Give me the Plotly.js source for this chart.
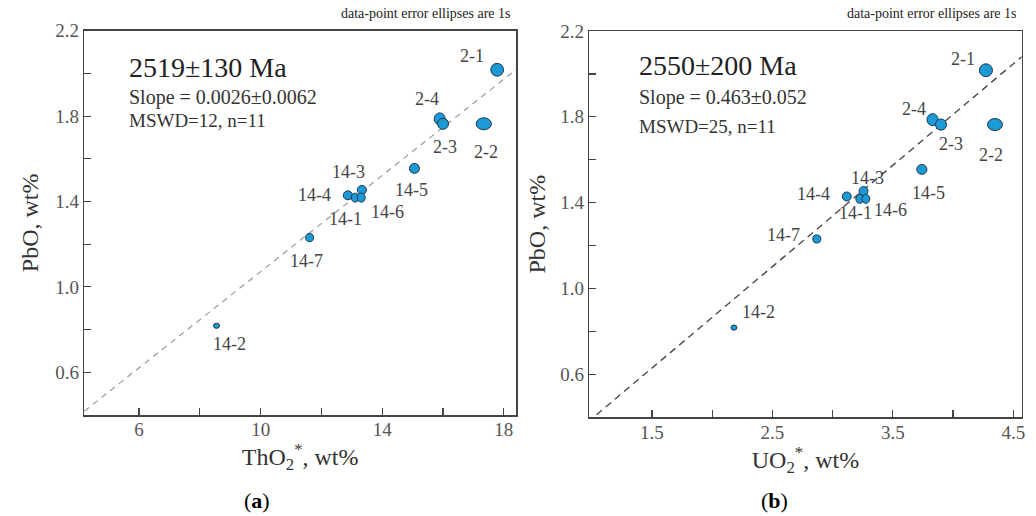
<!DOCTYPE html>
<html>
<head>
<meta charset="utf-8">
<script src="https://cdn.plot.ly/plotly-3.0.1.min.js"></script>
<style>html,body{margin:0;padding:0;background:#fff;}#chart{width:1036px;height:516px;}</style>
</head>
<body>
<div id="chart"></div>
<script>
// ---- data ----
const spotLabels = ['2-1','2-4','2-3','2-2','14-5','14-4','14-3','14-1','14-6','14-7','14-2'];
const pbo     = [2.017, 1.787, 1.764, 1.764, 1.555, 1.429, 1.454, 1.418, 1.418, 1.231, 0.818];
const pboErr  = [0.030, 0.028, 0.026, 0.028, 0.023, 0.021, 0.021, 0.021, 0.021, 0.019, 0.012];
const tho2    = [17.78, 15.89, 16.00, 17.34, 15.06, 12.87, 13.33, 13.11, 13.31, 11.61, 8.55];
const tho2Err = [0.21, 0.18, 0.18, 0.25, 0.165, 0.15, 0.15, 0.13, 0.13, 0.13, 0.10];
const uo2     = [4.273, 3.83, 3.90, 4.348, 3.741, 3.118, 3.257, 3.226, 3.276, 2.869, 2.181];
const uo2Err  = [0.054, 0.046, 0.046, 0.062, 0.042, 0.037, 0.037, 0.033, 0.033, 0.033, 0.025];
const fitA_x = [4.2, 18.4];
const fitA_y = [0.418, 2.018];
const fitB_x = [1.04, 4.57];
const fitB_y = [0.412, 2.08];
const xTicksA = [6, 10, 14, 18];
const xMinorA = [8, 12, 16];
const xTicksB = [1.5, 2.5, 3.5, 4.5];
const xMinorB = [2.0, 3.0, 4.0];
const yTicks = [0.6, 1.0, 1.4, 1.8, 2.2];
const yMinor = [0.8, 1.2, 1.6, 2.0];

// ---- label pixel offsets (style) ----
const offA = [[-25,-14],[-13,-20],[2,23],[2,28],[-3,22],[-33,0],[-13,-18],[-10,21],[26,14],[-3,23],[13,18]];
const offB = [[-23,-11],[-19,-11],[10,19],[-4,30],[7,24],[-33,-2],[4,-13],[-4,14],[25,11],[-33,-4],[25,-16]];

const SERIF = 'Liberation Serif, Times New Roman, serif';
const fill = '#1b9ad6', edge = '#1d3550';

const shapes = [];
function addEllipses(xs, xe, xref, yref) {
  xs.forEach((x, i) => {
    shapes.push({type:'circle', xref:xref, yref:yref,
      x0: x - xe[i], x1: x + xe[i], y0: pbo[i] - pboErr[i], y1: pbo[i] + pboErr[i],
      fillcolor: fill, line:{color: edge, width: 1}, layer:'above'});
  });
}
addEllipses(tho2, tho2Err, 'x', 'y');
addEllipses(uo2, uo2Err, 'x2', 'y2');

const annotations = [];
function addLabels(xs, offs, xref, yref) {
  xs.forEach((x, i) => {
    annotations.push({x: x, y: pbo[i], xref: xref, yref: yref, text: spotLabels[i],
      showarrow: false, xshift: offs[i][0], yshift: -offs[i][1],
      font:{family: SERIF, size: 18, color:'#444'}});
  });
}
addLabels(tho2, offA, 'x', 'y');
addLabels(uo2, offB, 'x2', 'y2');

function txt(x, y, text, size, opts) {
  annotations.push(Object.assign({x: x/1036, y: 1 - y/516, xref:'paper', yref:'paper', text: text,
    showarrow:false, xanchor:'left', yanchor:'middle', font:{family: SERIF, size: size, color:'#333'}}, opts||{}));
}
// panel a texts
txt(127, 67, '2519±130 Ma', 28, {font:{family:SERIF, size:28, color:'#222'}});
txt(127, 97, 'Slope = 0.0026±0.0062', 20);
txt(127, 121, 'MSWD=12, n=11', 19);
txt(513, 13, 'data-point error ellipses are 1s', 14, {xanchor:'right', font:{family:SERIF, size:14, color:'#222'}});
// panel b texts
txt(637, 65, '2550±200 Ma', 28, {font:{family:SERIF, size:28, color:'#222'}});
txt(637, 97, 'Slope = 0.463±0.052', 20);
txt(637, 126, 'MSWD=25, n=11', 19);
txt(1019, 13, 'data-point error ellipses are 1s', 14, {xanchor:'right', font:{family:SERIF, size:14, color:'#222'}});
// panel captions
txt(257, 500, '(<b>a</b>)', 22, {xanchor:'center', font:{family:SERIF, size:22, color:'#000'}});
txt(774, 500, '(<b>b</b>)', 22, {xanchor:'center', font:{family:SERIF, size:22, color:'#000'}});

const traces = [
  {x: fitA_x, y: fitA_y, xaxis:'x', yaxis:'y', mode:'lines', line:{color:'#9a9a9a', width:1.2, dash:'6px,5px'}, hoverinfo:'skip', showlegend:false},
  {x: fitB_x, y: fitB_y, xaxis:'x2', yaxis:'y2', mode:'lines', line:{color:'#4a4a4a', width:1.4, dash:'7px,5px'}, hoverinfo:'skip', showlegend:false}
];

const axBase = {showgrid:false, zeroline:false, showline:true, mirror:true, linecolor:'#444', linewidth:1.5,
  ticks:'inside', ticklen:7, tickwidth:1.2, tickcolor:'#444',
  tickfont:{family:SERIF, size:19, color:'#555'}};
function minor(vals) { return {tickmode:'array', tickvals: vals, ticks:'inside', ticklen:7, tickwidth:1.2, tickcolor:'#444', showgrid:false}; }

const layout = {
  width:1036, height:516, margin:{l:0, r:0, t:0, b:0},
  paper_bgcolor:'#fff', plot_bgcolor:'#fff', showlegend:false,
  xaxis: Object.assign({}, axBase, {domain:[84.3/1036, 516/1036], range:[4.2, 18.4], tickmode:'array', tickvals:xTicksA,
    minor: minor(xMinorA), ticklabelstandoff: -3, anchor:'y',
    title:{text:'ThO<sub>2</sub><sup>*</sup>, wt%', font:{family:SERIF, size:24, color:'#333'}, standoff:0}}),
  yaxis: Object.assign({}, axBase, {domain:[1-415/516, 1-30.7/516], range:[0.4, 2.2], tickmode:'array', tickvals:yTicks, tickformat:'.1f',
    minor: minor(yMinor), ticklabelstandoff: 0, anchor:'x',
    title:{text:'PbO, wt%', font:{family:SERIF, size:24, color:'#333'}, standoff:10}}),
  xaxis2: Object.assign({}, axBase, {domain:[589.3/1036, 1021.7/1036], range:[0.98, 4.57], tickmode:'array', tickvals:xTicksB, tickformat:'.1f',
    minor: minor(xMinorB), ticklabelstandoff: -3, anchor:'y2',
    title:{text:'UO<sub>2</sub><sup>*</sup>, wt%', font:{family:SERIF, size:24, color:'#333'}, standoff:0}}),
  yaxis2: Object.assign({}, axBase, {domain:[1-417.3/516, 1-31/516], range:[0.4, 2.2], tickmode:'array', tickvals:yTicks, tickformat:'.1f',
    minor: minor(yMinor), ticklabelstandoff: 0, anchor:'x2',
    title:{text:'PbO, wt%', font:{family:SERIF, size:24, color:'#333'}, standoff:8}}),
  shapes: shapes,
  annotations: annotations
};

Plotly.newPlot('chart', traces, layout, {displayModeBar:false, staticPlot:true});
</script>
</body>
</html>
